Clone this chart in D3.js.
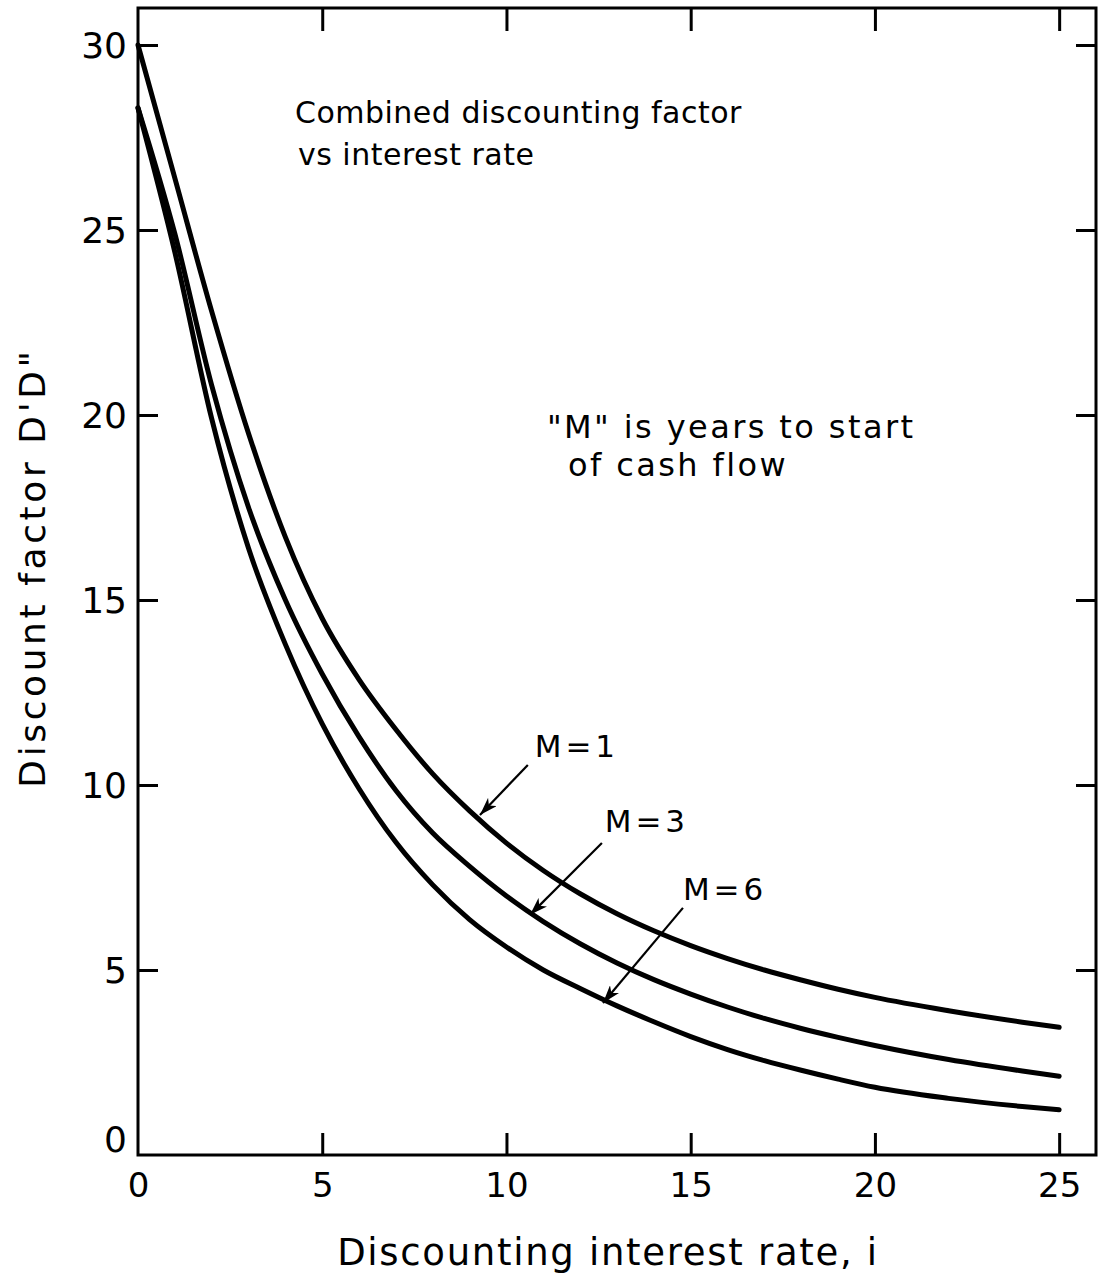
<!DOCTYPE html>
<html>
<head>
<meta charset="utf-8">
<script src="https://cdn.jsdelivr.net/npm/d3@7"></script>
<style>
body { margin: 0; background: #fff; }
text { font-family: "DejaVu Sans", sans-serif; fill: #000; }
</style>
</head>
<body>
<div id="chart"></div>
<script>
// Values
var rates    = [0, 1, 2, 3, 4, 5, 6, 7, 8, 9, 10, 11, 12, 13, 14, 15, 16, 17, 18, 19, 20, 22, 24, 25];
var factorM1 = [30, 26.4, 22.8, 19.5, 16.7, 14.5, 12.85, 11.5, 10.3, 9.3, 8.43, 7.69, 7.06, 6.52, 6.06, 5.66, 5.31, 5.0, 4.73, 4.48, 4.26, 3.9, 3.59, 3.45];
var factorM3 = [28.3, 24.9, 20.8, 17.5, 15.0, 13.0, 11.3, 9.85, 8.7, 7.8, 7.0, 6.31, 5.71, 5.19, 4.74, 4.35, 4.0, 3.69, 3.42, 3.18, 2.96, 2.58, 2.27, 2.13];
var factorM6 = [28.3, 24.4, 19.9, 16.4, 13.8, 11.65, 9.9, 8.45, 7.3, 6.36, 5.62, 5.0, 4.5, 4.03, 3.6, 3.2, 2.85, 2.55, 2.29, 2.05, 1.83, 1.53, 1.31, 1.22];

var seriesNames = ["M = 1", "M = 3", "M = 6"];
// label + arrow placement, in data units (rate, factor)
var labelRate   = [10.77, 12.67, 14.79];
var labelFactor = [10.76, 8.73, 6.89];
var tailRate    = [10.58, 12.59, 14.79];
var tailFactor  = [10.54, 8.43, 6.68];
var tipRate     = [9.28, 10.64, 12.62];
var tipFactor   = [9.19, 6.49, 4.11];

var xTicks = [0, 5, 10, 15, 20, 25];
var yTicks = [0, 5, 10, 15, 20, 25, 30];

// Chart dimensions
var margin = {top: 8, right: 11, bottom: 122, left: 138};
var width = 1107 - margin.left - margin.right;
var height = 1277 - margin.top - margin.bottom;

var svg = d3.select("#chart").append("svg")
    .attr("width", 1107)
    .attr("height", 1277);

var g = svg.append("g")
    .attr("transform", "translate(" + margin.left + "," + margin.top + ")");

var x = d3.scaleLinear().domain([0, 26]).range([0, width]);
var y = d3.scaleLinear().domain([0, 31]).range([height, 0]);

// arrow head
svg.append("defs").append("marker")
    .attr("id", "arrow")
    .attr("viewBox", "0 0 18 12")
    .attr("refX", 18)
    .attr("refY", 6)
    .attr("markerWidth", 18)
    .attr("markerHeight", 12)
    .attr("markerUnits", "userSpaceOnUse")
    .attr("orient", "auto")
    .append("path")
    .attr("d", "M0,0 L18,6 L0,12 L5,6 Z")
    .attr("fill", "#000");

// axes, ticks pointing inwards
function styleAxis(sel) {
    sel.select(".domain").remove();
    sel.selectAll(".tick line").attr("stroke", "#000").attr("stroke-width", 3);
    sel.selectAll(".tick text").attr("fill", "#000");
}

var xAxis = g.append("g")
    .attr("transform", "translate(0," + height + ")")
    .call(d3.axisBottom(x).tickValues(xTicks).tickSize(-22).tickPadding(18).tickFormat(d3.format("d")))
    .call(styleAxis);
xAxis.selectAll(".tick text").style("font-size", "34px").style("font-family", "DejaVu Sans");
xAxis.selectAll(".tick line").filter(function(d) { return d === 0; }).remove();

var yAxis = g.append("g")
    .call(d3.axisLeft(y).tickValues(yTicks).tickSize(-20).tickPadding(11).tickFormat(d3.format("d")))
    .call(styleAxis);
yAxis.selectAll(".tick text").style("font-size", "36px").style("font-family", "DejaVu Sans")
    .attr("dy", function(d) { return d === 0 ? "-0.1em" : "0.34em"; });
yAxis.selectAll(".tick line").filter(function(d) { return d === 0; }).remove();

g.append("g")
    .attr("transform", "translate(" + width + ",0)")
    .call(d3.axisRight(y).tickValues(yTicks.slice(1)).tickSize(-20).tickFormat(""))
    .call(styleAxis);

g.append("g")
    .call(d3.axisTop(x).tickValues(xTicks.slice(1)).tickSize(-23).tickFormat(""))
    .call(styleAxis);

// frame
g.append("rect")
    .attr("width", width)
    .attr("height", height)
    .attr("fill", "none")
    .attr("stroke", "#000")
    .attr("stroke-width", 3);

// curves
var line = d3.line()
    .x(function(d) { return x(d[0]); })
    .y(function(d) { return y(d[1]); })
    .curve(d3.curveMonotoneX);

[factorM1, factorM3, factorM6].forEach(function(vals) {
    g.append("path")
        .datum(rates.map(function(r, i) { return [r, vals[i]]; }))
        .attr("d", line)
        .attr("fill", "none")
        .attr("stroke", "#000")
        .attr("stroke-width", 5)
        .attr("stroke-linecap", "round")
        .attr("stroke-linejoin", "round");
});

// arrows + labels
seriesNames.forEach(function(name, i) {
    g.append("line")
        .attr("x1", x(tailRate[i])).attr("y1", y(tailFactor[i]))
        .attr("x2", x(tipRate[i])).attr("y2", y(tipFactor[i]))
        .attr("stroke", "#000")
        .attr("stroke-width", 2.2)
        .attr("marker-end", "url(#arrow)");
    g.append("text")
        .attr("x", x(labelRate[i]))
        .attr("y", y(labelFactor[i]))
        .style("font-size", "31px")
        .style("word-spacing", "-6px")
        .text(name);
});

// notes inside the plot
var title = g.append("text").style("font-size", "30px").style("letter-spacing", "0.5px");
title.append("tspan").attr("x", x(4.26)).attr("y", y(27.89)).text("Combined discounting factor");
title.append("tspan").attr("x", x(4.34)).attr("y", y(26.76)).text("vs interest rate");

var note = g.append("text").style("font-size", "32px").style("letter-spacing", "2.4px");
note.append("tspan").attr("x", x(11.1)).attr("y", y(19.38)).text("\"M\" is years to start");
note.append("tspan").attr("x", x(11.67)).attr("y", y(18.35)).text("of cash flow");

// axis titles
svg.append("text")
    .attr("x", 608)
    .attr("y", 1265)
    .attr("text-anchor", "middle")
    .style("font-size", "37px")
    .style("letter-spacing", "1.7px")
    .text("Discounting interest rate, i");

svg.append("text")
    .attr("transform", "translate(45," + (margin.top + height / 2 - 14) + ") rotate(-90)")
    .attr("text-anchor", "middle")
    .style("font-size", "36px")
    .style("letter-spacing", "3.6px")
    .text("Discount factor D'D\"");
</script>
</body>
</html>
